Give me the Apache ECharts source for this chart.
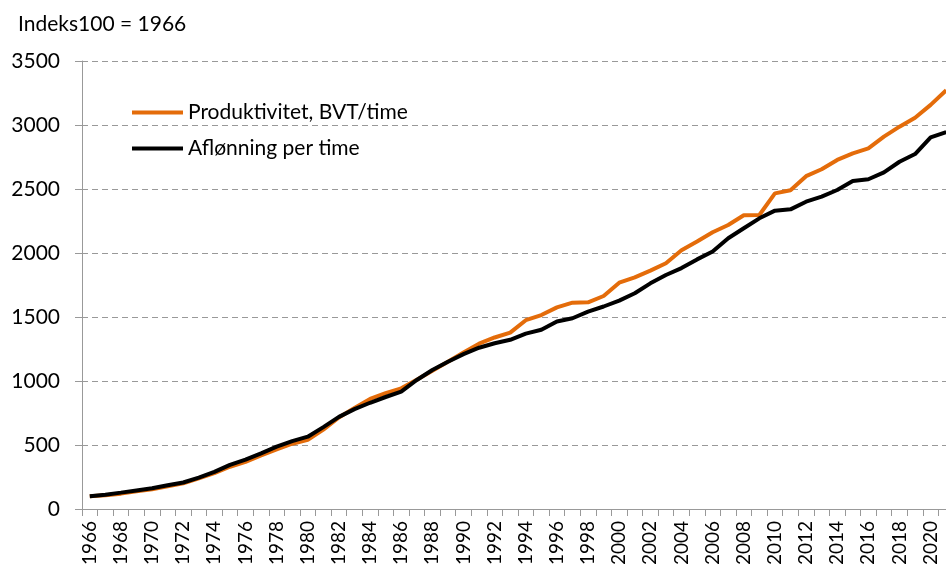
<!DOCTYPE html>
<html>
<head>
<meta charset="utf-8">
<script src="https://cdn.jsdelivr.net/npm/echarts@6/dist/echarts.min.js"></script>
<style>
  html, body { margin: 0; padding: 0; background: #fff; overflow: hidden; width: 946px; height: 572px; }
  #main { width: 954px; height: 572px; }
</style>
</head>
<body>
<div id="main"></div>
<script>
// år 1966-2021
var years = [];
for (var y = 1966; y <= 2021; y++) years.push(String(y));

// Produktivitet, BVT/time (indeks 1966 = 100)
var produktivitet = [
  100, 108, 120, 138, 155, 178, 200, 240, 280, 330,
  368, 418, 465, 510, 540, 620, 715, 790, 860, 905,
  943, 1010, 1080, 1150, 1222, 1292, 1340, 1378, 1475, 1515,
  1575, 1612, 1615, 1664, 1768, 1810, 1862, 1920, 2022, 2090,
  2162, 2219, 2295, 2297, 2466, 2490, 2600, 2654, 2727, 2779,
  2818, 2909, 2987, 3057, 3157, 3272
];

// Aflønning per time (indeks 1966 = 100)
var afloenning = [
  100, 112, 128, 145, 162, 185, 207, 245, 290, 345,
  385, 435, 487, 530, 565, 640, 720, 780, 830, 875,
  917, 1008, 1086, 1150, 1210, 1260, 1295, 1322, 1370, 1400,
  1465, 1490, 1542, 1582, 1628, 1686, 1763, 1828, 1882, 1950,
  2012, 2115, 2193, 2271, 2331, 2341, 2401, 2440, 2492, 2563,
  2576, 2630, 2713, 2773, 2904, 2945
];

var fontFam = 'Lato, "Open Sans", sans-serif';

var myChart = echarts.init(document.getElementById('main'));
myChart.setOption({
  animation: false,
  textStyle: { fontFamily: fontFam },
  title: {
    text: 'Indeks100 = 1966',
    left: 13,
    top: 9,
    textStyle: { fontSize: 21, fontWeight: 'normal', color: '#000', fontFamily: fontFam }
  },
  legend: {
    orient: 'vertical',
    left: 127,
    top: 97,
    itemWidth: 51,
    itemHeight: 4,
    itemGap: 15,
    icon: 'rect',
    textStyle: { fontSize: 21, color: '#000', fontFamily: fontFam },
    data: ['Produktivitet, BVT/time', 'Aflønning per time']
  },
  // plottet går litt ut over høyre kant, som i originalen
  grid: { left: 82, top: 61, right: 0, bottom: 63, containLabel: false },
  xAxis: {
    type: 'category',
    data: years,
    boundaryGap: true,
    axisLine: { lineStyle: { color: '#999', width: 1 } },
    axisTick: { show: true, interval: 0, length: 7, lineStyle: { color: '#999' } },
    axisLabel: {
      interval: 1,
      rotate: 90,
      margin: 12,
      fontSize: 19,
      color: '#000',
      fontFamily: fontFam
    }
  },
  yAxis: {
    type: 'value',
    min: 0,
    max: 3500,
    interval: 500,
    axisLine: { show: true, lineStyle: { color: '#999', width: 1 } },
    axisTick: { show: true, length: 7, lineStyle: { color: '#999' } },
    axisLabel: {
      margin: 22,
      fontSize: 21,
      color: '#000',
      fontFamily: fontFam,
      formatter: function (v) { return String(v); }
    },
    splitLine: { lineStyle: { color: '#999', type: [6, 4], width: 1 } }
  },
  series: [
    {
      name: 'Produktivitet, BVT/time',
      type: 'line',
      data: produktivitet,
      showSymbol: false,
      color: '#E46C0A',
      lineStyle: { width: 4, color: '#E46C0A' }
    },
    {
      name: 'Aflønning per time',
      type: 'line',
      data: afloenning,
      showSymbol: false,
      color: '#000',
      lineStyle: { width: 4, color: '#000' }
    }
  ]
});
</script>
</body>
</html>
